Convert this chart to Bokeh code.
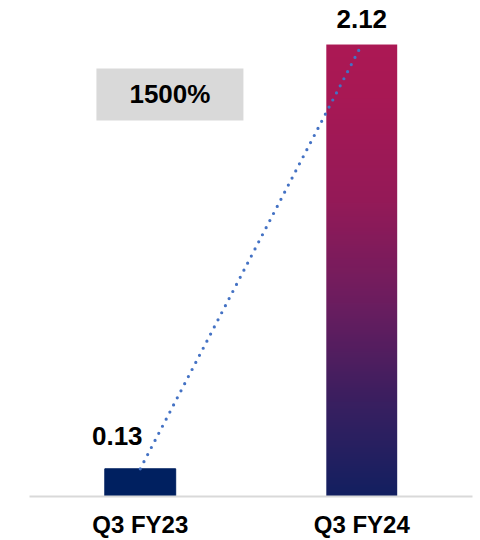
import numpy as np
from bokeh.plotting import figure
from bokeh.models import FactorRange, Range1d
from bokeh.core.properties import value
from bokeh.embed import file_html
from bokeh.resources import INLINE

# ---- data ----
categories = ["Q3 FY23", "Q3 FY24"]
values = [0.13, 2.12]
growth_text = "1500%"

# ---- styles ----
FONT = "Liberation Sans"
BAR_W = 0.32
solid_color = "#002060"
grad_stops = [(0.0, (19, 32, 96)), (0.21, (58, 31, 96)), (0.43, (108, 29, 95)),
              (0.65, (148, 26, 88)), (0.88, (168, 24, 85)), (1.0, (172, 24, 84))]
label_dx = [-23, 0]
label_dy = [-33, -26]

p = figure(width=480, height=540,
           x_range=FactorRange(*categories, range_padding=0),
           y_range=Range1d(0, 2.3265),
           output_backend="svg", toolbar_location=None,
           y_axis_location=None,
           min_border_left=29, min_border_right=8,
           min_border_top=0, min_border_bottom=0)
p.outline_line_color = None
p.xgrid.visible = False
p.ygrid.visible = False
p.background_fill_color = "white"
p.border_fill_color = "white"

ax = p.xaxis[0]
ax.axis_line_color = "#D9D9D9"
ax.axis_line_width = 2
ax.major_tick_line_color = None
ax.minor_tick_line_color = None
ax.major_label_text_font = FONT
ax.major_label_text_font_style = "bold"
ax.major_label_text_font_size = "24px"
ax.major_label_text_color = "#000000"
ax.major_label_standoff = 8

# bar 1: solid
p.vbar(x=[categories[0]], top=[values[0]], width=BAR_W, color=solid_color)

# bar 2: vertical gradient image
N = 256
t = np.linspace(0, 1, N)
pos = [s[0] for s in grad_stops]
r = np.interp(t, pos, [s[1][0] for s in grad_stops])
g = np.interp(t, pos, [s[1][1] for s in grad_stops])
b = np.interp(t, pos, [s[1][2] for s in grad_stops])
img = np.zeros((N, 1), dtype=np.uint32)
view = img.view(dtype=np.uint8).reshape((N, 1, 4))
view[:, 0, 0] = r.astype(np.uint8)
view[:, 0, 1] = g.astype(np.uint8)
view[:, 0, 2] = b.astype(np.uint8)
view[:, 0, 3] = 255
i2 = 1
p.image_rgba(image=[img], x=i2 + 0.5 - BAR_W / 2, y=0, dw=BAR_W, dh=values[i2])

# dotted connector
p.line(x=categories, y=values, line_color="#4472C4", line_width=3.2,
       line_dash="0 8", line_cap="round")

# value labels
for i, (c, v) in enumerate(zip(categories, values)):
    p.text(x=[c], y=[v], text=[f"{v:.2f}"], x_offset=label_dx[i], y_offset=label_dy[i],
           text_align="center", text_baseline="alphabetic",
           text_font=value(FONT), text_font_style="bold", text_font_size="26px",
           text_color="#000000")

# growth box
p.rect(x=[0.634], y=[1.886], width=147, height=52, width_units="screen",
       height_units="screen", fill_color="#D9D9D9", line_color=None)
p.text(x=[0.634], y=[1.886], text=[growth_text], text_align="center",
       text_baseline="middle", text_font=value(FONT), text_font_style="bold",
       text_font_size="26px", text_color="#000000")

open("out.html", "w").write(file_html(p, INLINE))
